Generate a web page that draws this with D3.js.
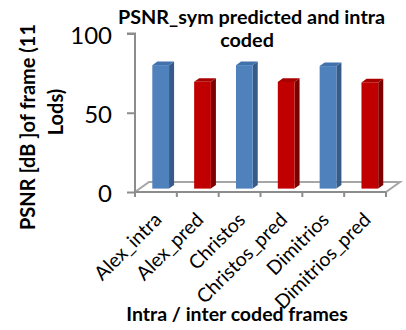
<!DOCTYPE html>
<html>
<head>
<meta charset="utf-8">
<script src="https://cdn.jsdelivr.net/npm/d3@7"></script>
<style>
  html, body { margin: 0; padding: 0; background: #fff; }
  svg { display: block; font-family: Lato, "Open Sans", sans-serif; }
</style>
</head>
<body>
<svg id="chart" width="406" height="330"></svg>
<script>
// Frame names along the x axis
const categories = ["Alex_intra", "Alex_pred", "Christos", "Christos_pred", "Dimitrios", "Dimitrios_pred"];
// PSNR_sym in dB for each frame
const psnrValues = [77.9, 67.4, 77.9, 67.3, 77.3, 67.0];
// Intra frames are blue, predicted frames red
const frameKind = ["intra", "pred", "intra", "pred", "intra", "pred"];
const yTicks = [0, 50, 100];

const titleLines = ["PSNR_sym predicted and intra", "coded"];
const yTitleLines = ["PSNR [dB ]of frame (11", "Lods)"];
const xTitle = "Intra / inter coded frames";

const palette = {
  intra: { front: "#4F81BD", side: "#365B88", top: "#4272AC" },
  pred:  { front: "#C00000", side: "#7C0000", top: "#A80000" }
};

const svg = d3.select("#chart");

// Front plane of the 3-D plot box
const plot = { left: 135, right: 386, top: 33.5, bottom: 192 };
// Oblique depth of the floor and of the bars inside it
const depth = { dx: 14, dy: -10 };
const barFront = 0.34, barBack = 0.70;

const x = d3.scaleBand()
  .domain(categories)
  .range([plot.left, plot.right])
  .paddingInner(0.6)
  .paddingOuter(0.3);

const y = d3.scaleLinear().domain([0, 100]).range([plot.bottom, plot.top]);

const axisGray = "#8C8C8C";

// Floor parallelogram
const floorPts = [
  [plot.left, plot.bottom],
  [plot.right, plot.bottom],
  [plot.right + depth.dx, plot.bottom + depth.dy],
  [plot.left + depth.dx, plot.bottom + depth.dy]
];
svg.append("polygon")
  .attr("points", floorPts.map(p => p.join(",")).join(" "))
  .attr("fill", "none")
  .attr("stroke", "#A6A6A6")
  .attr("stroke-width", 2)
  .attr("stroke-linejoin", "miter");

// Value axis
const yAxis = d3.axisLeft(y).tickValues(yTicks).tickSize(8).tickPadding(15).tickFormat(d3.format("d"));
const gy = svg.append("g").attr("transform", `translate(${plot.left},0)`).call(yAxis);
gy.select(".domain").attr("d", `M-8,${plot.top}H0V${plot.bottom + 5}`).attr("stroke", axisGray).attr("stroke-width", 2);
gy.selectAll(".tick line").attr("stroke", axisGray).attr("stroke-width", 2);
gy.selectAll(".tick text")
  .attr("font-family", "Lato, sans-serif")
  .attr("font-size", 24)
  .attr("fill", "#000")
  .attr("dy", "0.4em");

// Category axis ticks on the front edge of the floor
const xTickPos = d3.range(categories.length + 1).map(i => plot.left + i * x.step());
svg.append("g").selectAll("line")
  .data(xTickPos)
  .join("line")
  .attr("x1", d => d).attr("x2", d => d)
  .attr("y1", plot.bottom).attr("y2", plot.bottom + 5)
  .attr("stroke", axisGray).attr("stroke-width", 2);
svg.append("line")
  .attr("x1", plot.left).attr("x2", plot.right)
  .attr("y1", plot.bottom).attr("y2", plot.bottom)
  .attr("stroke", axisGray).attr("stroke-width", 2);

// 3-D columns
const fdx = depth.dx * barFront, fdy = depth.dy * barFront;
const bdx = depth.dx * (barBack - barFront), bdy = depth.dy * (barBack - barFront);
const bars = svg.append("g");
categories.forEach((c, i) => {
  const col = palette[frameKind[i]];
  const xl = x(c) + fdx, xr = xl + x.bandwidth();
  const yt = y(psnrValues[i]) + fdy, yb = y(0) + fdy;
  const g = bars.append("g");
  g.append("polygon")
    .attr("points", [[xr, yt], [xr + bdx, yt + bdy], [xr + bdx, yb + bdy], [xr, yb]].map(p => p.join(",")).join(" "))
    .attr("fill", col.side);
  g.append("polygon")
    .attr("points", [[xl, yt], [xr, yt], [xr + bdx, yt + bdy], [xl + bdx, yt + bdy]].map(p => p.join(",")).join(" "))
    .attr("fill", col.top);
  g.append("rect")
    .attr("x", xl).attr("y", yt)
    .attr("width", x.bandwidth()).attr("height", yb - yt)
    .attr("fill", col.front);
});

// Rotated category labels
svg.append("g").selectAll("text")
  .data(categories)
  .join("text")
  .attr("transform", d => `translate(${x(d) + x.bandwidth() / 2 + 7},221) rotate(-45)`)
  .attr("text-anchor", "end")
  .attr("font-size", 19.5)
  .attr("fill", "#000")
  .text(d => d);

// Chart title
svg.append("g").selectAll("text")
  .data(titleLines)
  .join("text")
  .attr("x", (d, i) => i === 0 ? 251.5 : 247)
  .attr("y", (d, i) => 24 + i * 23)
  .attr("text-anchor", "middle")
  .attr("font-weight", "bold")
  .attr("font-size", 19.8)
  .attr("fill", "#000")
  .text(d => d);

// Value axis title
svg.append("text")
  .attr("transform", "translate(35,127) rotate(-90)")
  .attr("text-anchor", "middle")
  .attr("font-weight", "bold")
  .attr("font-size", 20)
  .text(yTitleLines[0]);
svg.append("text")
  .attr("transform", "translate(63,112) rotate(-90)")
  .attr("text-anchor", "middle")
  .attr("font-weight", "bold")
  .attr("font-size", 20)
  .text(yTitleLines[1]);

// Category axis title
svg.append("text")
  .attr("x", 237).attr("y", 321)
  .attr("text-anchor", "middle")
  .attr("font-weight", "bold")
  .attr("font-size", 19.5)
  .text(xTitle);
</script>
</body>
</html>
